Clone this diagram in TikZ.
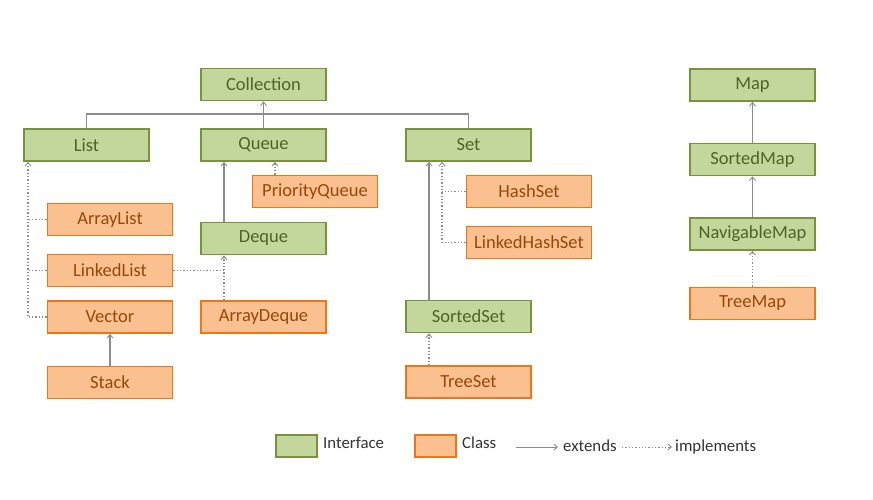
\documentclass[tikz,border=0pt]{standalone}
\usepackage{fontspec}
\setmainfont{Carlito}
\usetikzlibrary{arrows.meta}
\definecolor{gfill}{HTML}{C3D69B}
\definecolor{gdraw}{HTML}{77933C}
\definecolor{gtext}{HTML}{4F6228}
\definecolor{ofill}{HTML}{FAC090}
\definecolor{odraw}{HTML}{EE7518}
\definecolor{otext}{HTML}{984807}
\definecolor{lgray}{HTML}{8C8C8C}
\definecolor{legtext}{HTML}{333333}
\tikzset{
  box/.style={draw, line width=1.8pt, minimum width=125pt, minimum height=32pt, inner sep=0pt, font=\fontsize{18.5}{22}\selectfont},
  iface/.style={box, fill=gfill, draw=gdraw, text=gtext},
  cls/.style={box, fill=ofill, draw=odraw, text=otext},
  ext/.style={draw=lgray, line width=1.3pt, -{Straight Barb[length=3.5pt,width=6pt,line width=0.9pt]}},
  impl/.style={draw=lgray, line width=1.3pt, dotted, -{Straight Barb[length=3.5pt,width=6pt,line width=0.9pt]}},
  dotline/.style={draw=lgray, line width=1.3pt, dotted},
  solidline/.style={draw=lgray, line width=1.3pt},
  legbox/.style={draw, line width=1.8pt, minimum width=41pt, minimum height=22pt, inner sep=0pt},
  legtxt/.style={anchor=west, inner sep=0pt, text=legtext, font=\fontsize{16.8}{20}\selectfont}
}
\begin{document}
\begin{tikzpicture}[x=1pt,y=-1pt]
\useasboundingbox (0,0) rectangle (873,499);
% Collection hierarchy
\node[iface] (coll) at (263.5,84.5) {Collection};
\node[iface] (list) at (86.5,145) {List};
\node[iface] (queue) at (263.5,145) {Queue};
\node[iface] (set) at (468.5,145) {Set};
\node[cls] (pq) at (315,191.5) {PriorityQueue};
\node[cls] (arraylist) at (110,219.5) {ArrayList};
\node[iface] (deque) at (263.5,238.5) {Deque};
\node[cls] (linkedlist) at (110,270.5) {LinkedList};
\node[cls] (vector) at (110,317) {Vector};
\node[cls] (arraydeque) at (263.5,317) {ArrayDeque};
\node[cls] (stack) at (110,382.5) {Stack};
\node[cls] (hashset) at (529,191.5) {HashSet};
\node[cls] (lhs) at (529,242.5) {LinkedHashSet};
\node[iface] (sortedset) at (468.5,316.5) {SortedSet};
\node[cls] (treeset) at (468.5,382) {TreeSet};
% Map hierarchy
\node[iface] (map) at (752.5,85) {Map};
\node[iface] (sortedmap) at (752.5,159.5) {SortedMap};
\node[iface] (navmap) at (752.5,234) {NavigableMap};
\node[cls] (treemap) at (752.5,303.5) {TreeMap};
% helper coordinates
\coordinate (hy) at (0,114);
\coordinate (lx) at (28,0);
\coordinate (qx) at (224,0);
\coordinate (px) at (275,0);
\coordinate (sx) at (429,0);
\coordinate (sdx) at (442,0);
% connectors
\draw[solidline] (list.north) -- (list.north |- hy) -- (set.north |- hy) -- (set.north);
\draw[ext] (queue.north) -- (coll.south);
\draw[ext] (qx |- deque.north) -- (qx |- queue.south);
\draw[impl] (px |- pq.north) -- (px |- queue.south);
\draw[impl] (vector.west) -| (lx |- list.south);
\draw[dotline] (arraylist.west) -- (lx |- arraylist.west);
\draw[dotline] (linkedlist.west) -- (lx |- linkedlist.west);
\draw[impl] (qx |- arraydeque.north) -- (qx |- deque.south);
\draw[dotline] (linkedlist.east) -- (qx |- linkedlist.east);
\draw[ext] (stack.north) -- (vector.south);
\draw[ext] (sx |- sortedset.north) -- (sx |- set.south);
\draw[impl] (lhs.west) -| (sdx |- set.south);
\draw[dotline] (hashset.west) -- (sdx |- hashset.west);
\draw[impl] (sx |- treeset.north) -- (sx |- sortedset.south);
\draw[ext] (sortedmap.north) -- (map.south);
\draw[ext] (navmap.north) -- (sortedmap.south);
\draw[impl] (treemap.north) -- (navmap.south);
% legend
\node[legbox, fill=gfill, draw=gdraw] (lgi) at (296.5,446) {};
\node[legtxt] (lti) at (323,443) {Interface};
\node[legbox, fill=ofill, draw=odraw] (lgc) at (435.5,446) {};
\node[legtxt] (ltc) at (462,443) {Class};
\coordinate (e1) at (516,447);
\coordinate (e2) at (558,447);
\draw[ext, line width=0.9pt] (e1) -- (e2);
\node[legtxt] (lte) at (563,446) {extends};
\coordinate (d1) at (622,447);
\coordinate (d2) at (672,447);
\draw[impl, line width=0.9pt] (d1) -- (d2);
\node[legtxt] (ltm) at (675,447) {implements};
\end{tikzpicture}
\end{document}
